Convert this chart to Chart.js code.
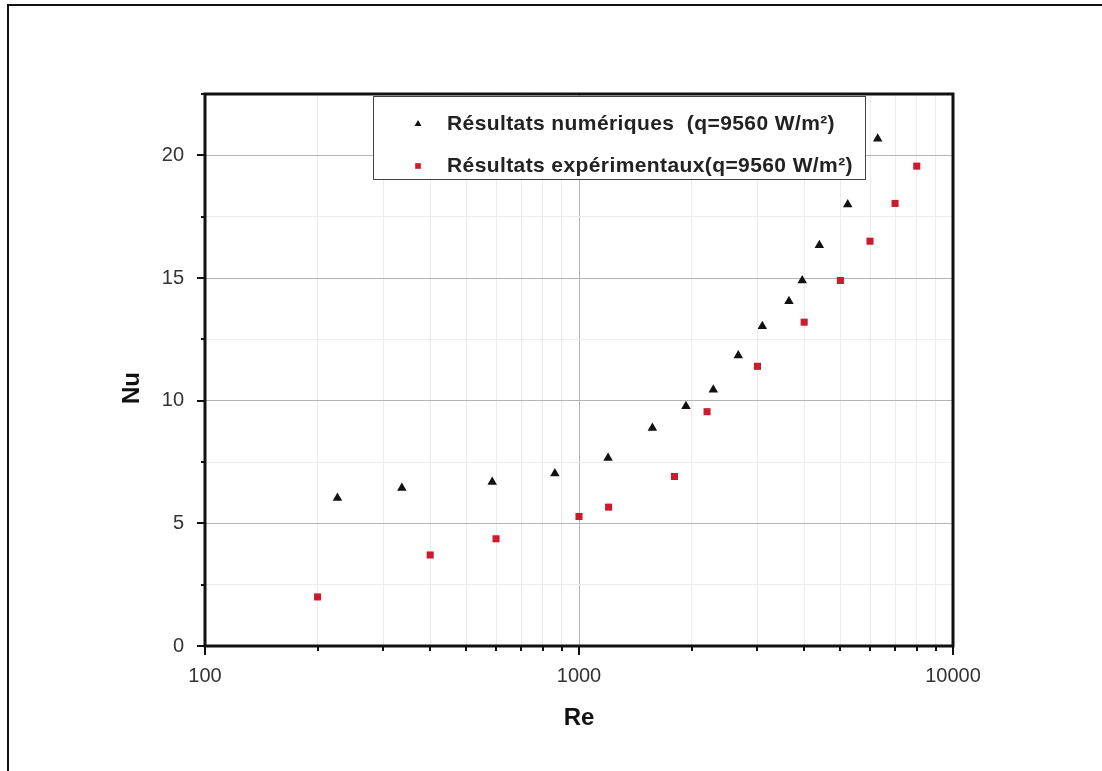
<!DOCTYPE html>
<html>
<head>
<meta charset="utf-8">
<script src="https://cdn.jsdelivr.net/npm/chart.js@4.4.1/dist/chart.umd.min.js"></script>
<style>
  html, body { margin: 0; padding: 0; background: #fff; }
  #wrap { position: relative; width: 1102px; height: 771px; }
  #frame { position: absolute; left: 7px; top: 4px; right: 0; bottom: 0;
           border-left: 2px solid #111; border-top: 2px solid #111; pointer-events: none; }
</style>
</head>
<body>
<div id="wrap">
  <canvas id="chart" width="1102" height="771"></canvas>
  <div id="frame"></div>
</div>
<script>
// Nusselt number vs Reynolds number, q = 9560 W/m2
const reNumerique = [226, 336, 586, 862, 1196, 1571, 1932, 2286, 2666, 3091, 3642, 3952, 4392, 5230, 6290];
const nuNumerique = [6.03, 6.44, 6.68, 7.03, 7.66, 8.89, 9.77, 10.45, 11.84, 13.03, 14.05, 14.9, 16.34, 18.0, 20.68];

const reExperience = [200, 400, 600, 1000, 1200, 1800, 2200, 3000, 4000, 5000, 6000, 7000, 8000];
const nuExperience = [2.0, 3.71, 4.37, 5.28, 5.66, 6.91, 9.55, 11.4, 13.2, 14.9, 16.5, 18.04, 19.56];

const labelNumerique = 'Résultats numériques  (q=9560 W/m²)';
const labelExperience = 'Résultats expérimentaux(q=9560 W/m²)';
const yTitle = 'Nu';

// log axis: one tick per unit of each decade, labels on the decades only
const xTickValues = [100, 200, 300, 400, 500, 600, 700, 800, 900,
                     1000, 2000, 3000, 4000, 5000, 6000, 7000, 8000, 9000, 10000];
const xTickLabels = [100, 1000, 10000];

const FONT = '"Liberation Sans", Arial, sans-serif';
const toPoints = (xs, ys) => xs.map((x, i) => ({ x: x, y: ys[i] }));
const isDecade = v => xTickLabels.includes(v);
const isMajorY = v => v % 5 === 0;

// frame, outward tick marks, y title and the boxed legend
const framePlugin = {
  id: 'framePlugin',
  afterDraw(chart) {
    const { ctx, chartArea: a, scales } = chart;
    const x = scales.x, y = scales.y;
    ctx.save();
    ctx.strokeStyle = '#111';
    ctx.lineWidth = 2;
    ctx.beginPath();
    x.ticks.forEach(t => {
      const px = Math.round(x.getPixelForValue(t.value));
      ctx.moveTo(px, a.bottom);
      ctx.lineTo(px, a.bottom + (isDecade(t.value) ? 9 : 5));
    });
    y.ticks.forEach(t => {
      const py = Math.round(y.getPixelForValue(t.value));
      ctx.moveTo(a.left, py);
      ctx.lineTo(a.left - (isMajorY(t.value) ? 8 : 4), py);
    });
    ctx.stroke();

    ctx.lineWidth = 3;
    ctx.strokeRect(a.left, a.top, a.right - a.left, a.bottom - a.top);

    // rotated y title, sitting a little below the middle of the axis
    ctx.save();
    ctx.translate(132, 388);
    ctx.rotate(-Math.PI / 2);
    ctx.font = 'bold 24px ' + FONT;
    ctx.fillStyle = '#111';
    ctx.textAlign = 'center';
    ctx.textBaseline = 'middle';
    ctx.fillText(yTitle, 0, 0);
    ctx.restore();

    // legend box
    const bx = 373, by = 96, bw = 492, bh = 83;
    ctx.fillStyle = '#fff';
    ctx.fillRect(bx, by, bw, bh);
    ctx.lineWidth = 1;
    ctx.strokeStyle = '#444';
    ctx.strokeRect(bx + 0.5, by + 0.5, bw, bh);

    ctx.font = 'bold 21px ' + FONT;
    ctx.letterSpacing = '0.4px';
    ctx.textBaseline = 'middle';
    ctx.textAlign = 'left';
    chart.data.datasets.forEach((ds, i) => {
      const cy = 124 + i * 42;
      ctx.fillStyle = ds.backgroundColor;
      Chart.helpers.drawPoint(ctx, { pointStyle: ds.pointStyle, radius: 4, rotation: 0, borderWidth: 0 }, 418, cy);
      ctx.fillStyle = '#222';
      ctx.fillText(ds.label, 447, cy);
    });
    ctx.restore();
  }
};

new Chart(document.getElementById('chart').getContext('2d'), {
  type: 'scatter',
  data: {
    datasets: [
      {
        label: labelNumerique,
        data: toPoints(reNumerique, nuNumerique),
        pointStyle: 'triangle',
        pointRadius: 5.5,
        backgroundColor: '#111',
        borderWidth: 0
      },
      {
        label: labelExperience,
        data: toPoints(reExperience, nuExperience),
        pointStyle: 'rect',
        pointRadius: 5,
        backgroundColor: '#cc1a2e',
        borderWidth: 0
      }
    ]
  },
  options: {
    responsive: false,
    animation: false,
    events: [],
    layout: { padding: { left: 0, top: 94, right: 149, bottom: 0 } },
    plugins: {
      legend: { display: false },
      tooltip: { enabled: false }
    },
    scales: {
      x: {
        type: 'logarithmic',
        min: 100,
        max: 10000,
        afterBuildTicks: axis => {
          axis.ticks = xTickValues.map(v => ({ value: v, major: isDecade(v) }));
        },
        afterFit: axis => { axis.height = 125; },
        border: { display: false },
        grid: {
          drawTicks: false,
          lineWidth: 1,
          color: c => (isDecade(c.tick.value) ? '#b4b4b4' : '#ececec')
        },
        ticks: {
          autoSkip: false,
          maxRotation: 0,
          padding: 18,
          color: '#333',
          font: { family: FONT, size: 20 },
          callback: v => (isDecade(v) ? String(v) : '')
        },
        title: {
          display: true,
          text: 'Re',
          color: '#111',
          font: { family: FONT, size: 24, weight: 'bold' },
          padding: { top: 0, bottom: 38 }
        }
      },
      y: {
        min: 0,
        max: 22.5,
        afterFit: axis => { axis.width = 205; },
        border: { display: false },
        grid: {
          drawTicks: false,
          lineWidth: 1,
          color: c => (isMajorY(c.tick.value) ? '#b4b4b4' : '#ececec')
        },
        ticks: {
          stepSize: 2.5,
          padding: 21,
          color: '#333',
          font: { family: FONT, size: 20 },
          callback: v => (isMajorY(v) ? String(v) : '')
        }
      }
    }
  },
  plugins: [framePlugin]
});
</script>
</body>
</html>
